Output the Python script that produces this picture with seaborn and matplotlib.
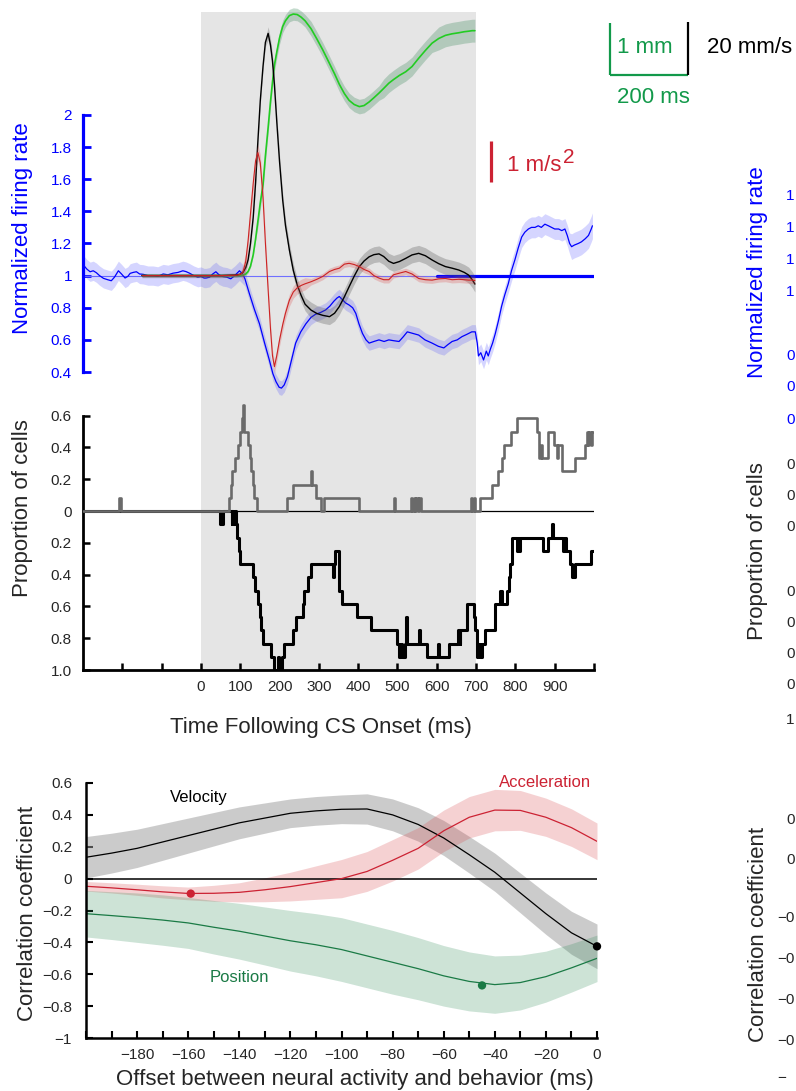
import numpy as np
import matplotlib
matplotlib.use("Agg")
import matplotlib.pyplot as plt
import seaborn as sns

# ------------------------------------------------------------------ data
# Top panel: normalized firing rate vs time following CS onset (ms)
fr_time = [-297, -290, -282, -274, -266, -258, -248, -238, -228, -220,
           -210, -202, -193, -186, -180, -172, -164, -156, -147, -135,
           -122, -110, -96, -84, -71, -58, -46, -38, -29, -18,
           -8, 0, 8, 13, 22, 30, 38, 46, 56, 66,
           76, 86, 98, 106, 112, 123, 136, 149, 162, 174,
           183, 191, 199, 205, 212, 220, 230, 241, 254, 267,
           280, 292, 304, 317, 328, 338, 346, 352, 360, 368,
           377, 386, 394, 402, 411, 420, 428, 440, 453, 466,
           478, 490, 504, 515, 525, 540, 554, 570, 588, 604,
           618, 628, 639, 652, 664, 677, 689, 698, 703, 706,
           712, 719, 726, 731, 736, 742, 749, 757, 765, 773,
           782, 790, 799, 807, 816, 824, 833, 841, 850, 858,
           866, 875, 884, 892, 900, 910, 918, 926, 932, 938,
           943, 950, 960, 968, 978, 986, 993, 996]
fr_rate = [1.06, 1.04, 1.024, 1.03, 1.018, 1.0, 0.983, 0.975, 0.968, 0.99,
           1.03, 1.01, 0.985, 0.995, 1.014, 1.02, 1.024, 1.01, 1.008, 1.0,
           1.0, 0.995, 1.01, 1.005, 1.015, 1.02, 1.03, 1.025, 1.015, 1.0,
           0.99, 0.994, 0.985, 0.985, 0.99, 1.01, 1.024, 1.005, 0.994, 0.99,
           0.98, 1.0, 1.03, 1.01, 0.98, 0.89, 0.79, 0.70, 0.58, 0.475,
           0.39, 0.34, 0.305, 0.30, 0.32, 0.37, 0.47, 0.58, 0.65, 0.70,
           0.74, 0.76, 0.77, 0.786, 0.81, 0.84, 0.86, 0.87, 0.85, 0.83,
           0.817, 0.80, 0.765, 0.70, 0.64, 0.60, 0.58, 0.59, 0.60, 0.59,
           0.60, 0.595, 0.59, 0.62, 0.65, 0.64, 0.63, 0.60, 0.58, 0.56,
           0.55, 0.57, 0.59, 0.60, 0.62, 0.635, 0.65, 0.65, 0.58, 0.50,
           0.52, 0.475, 0.53, 0.50, 0.54, 0.58, 0.64, 0.72, 0.81, 0.88,
           0.95, 1.03, 1.10, 1.17, 1.24, 1.27, 1.29, 1.30, 1.30, 1.31,
           1.30, 1.32, 1.31, 1.30, 1.29, 1.29, 1.28, 1.29, 1.25, 1.20,
           1.18, 1.19, 1.20, 1.21, 1.23, 1.25, 1.29, 1.31]
fr_sem = [0.06] * 44 + [0.045] * 54 + [0.055] * 13 + [0.065] * 19 + [0.08] * 8
rate_baseline = 1.0
rate_thick_span = [600, 1000]
cs_window = [0, 700]

# behaviour (eyelid) traces
beh_time = [-150, -100, -50, 0, 50, 90, 100, 107, 114, 120,
            126, 133, 139, 145, 151, 158, 164, 171, 177, 182,
            187, 193, 200, 208, 215, 225, 235, 245, 255, 265,
            280, 295, 310, 327, 340, 352, 365, 377, 390, 403,
            415, 428, 440, 453, 465, 478, 490, 505, 521, 537,
            554, 571, 588, 605, 622, 639, 656, 670, 681, 690, 697]
pos_mm = [0, 0, 0, 0, 0, 0, 0, 0.01, 0.03, 0.08,
          0.18, 0.4, 0.7, 1.05, 1.4, 1.75, 2.3, 2.85, 3.35, 3.72,
          4.05, 4.3, 4.57, 4.79, 4.9, 5.0, 5.03, 5.02, 4.97, 4.9,
          4.75, 4.55, 4.34, 4.08, 3.88, 3.68, 3.5, 3.37, 3.29, 3.25,
          3.27, 3.34, 3.42, 3.51, 3.6, 3.70, 3.77, 3.85, 3.92, 4.02,
          4.18, 4.33, 4.47, 4.56, 4.62, 4.65, 4.67, 4.69, 4.7, 4.71, 4.71]
pos_sem = [0.03] * 13 + [0.12] * 17 + [0.14] * 14 + [0.18] * 9 + [0.22] * 8
vel_mms = [0, 0, 0, 0, 0, 0.2, 0.5, 1.2, 3, 6,
           12, 22, 35, 51, 66, 79, 88, 91.4, 87, 81,
           72, 58, 43, 28.5, 19, 9.7, 2, -3.5, -7.5, -10.8,
           -13, -14.3, -15, -15.5, -14.2, -11.7, -8, -4.2, -0.2, 3.4,
           5.5, 7.1, 7.9, 8.2, 7.2, 5.4, 4.6, 5.3, 6.5, 7.8,
           8.4, 7.5, 5.9, 4.5, 3.4, 2.8, 2.1, 1.2, 0.2, -1.5, -3.2]
vel_sem = [0.8] * 7 + [1.5] * 10 + [2.5] * 13 + [3.0] * 31
acc_ms2 = [0, 0, 0, 0, 0, 0.01, 0.03, 0.08, 0.35, 0.85,
           1.5, 2.25, 2.8, 3.0, 2.75, 1.9, 0.8, -0.35, -1.3, -1.95,
           -2.22, -1.95, -1.57, -1.2, -0.92, -0.6, -0.4, -0.3, -0.24, -0.2,
           -0.15, -0.09, -0.02, 0.1, 0.15, 0.18, 0.28, 0.3, 0.27, 0.22,
           0.15, 0.1, 0.0, -0.06, -0.1, -0.1, 0.02, 0.06, 0.1, 0.04,
           -0.07, -0.1, -0.11, -0.08, -0.07, -0.1, -0.09, -0.1, -0.11, -0.11, -0.12]
acc_sem = [0.03] * 7 + [0.2] * 10 + [0.15] * 13 + [0.08] * 31

scale_mm, scale_vel, scale_ms, scale_acc = 1, 20, 200, 1

# Middle panel: proportion of cells (12 cells), step traces
n_cells = 12
inc_time = [-300, -208, -204, 72, 76, 80, 86, 94, 100, 105, 107, 110, 120, 124, 128, 132, 136, 142,
            218, 234, 279, 283, 292, 306, 314, 401, 492, 495, 534, 538, 541, 545, 548, 552, 555, 559,
            686, 690, 694, 698, 711, 740, 757, 765, 770, 790, 803, 854, 860, 864, 868, 882, 897,
            905, 909, 918, 951, 976, 981, 984, 988, 992, 995, 1000]
inc_count = [0, 1, 0, 1, 2, 3, 4, 5, 6, 7, 8, 6, 5, 4, 3, 2, 1, 0,
             1, 2, 3, 2, 1, 0, 1, 0, 1, 0, 1, 0, 1, 0, 1, 0, 1, 0,
             1, 0, 1, 0, 1, 2, 3, 4, 5, 6, 7, 6, 4, 5, 4, 6, 5,
             4, 5, 3, 4, 5, 6, 5, 6, 5, 6, 6]
dec_time = [-300, 48, 50, 52, 55, 78, 80, 82, 86, 88, 92, 97, 100, 132, 138, 145, 150, 154, 158,
            179, 186, 196, 198, 207, 211, 234, 242, 259, 263, 272, 280, 335, 338, 341, 350, 352,
            360, 398, 432, 500, 504, 508, 512, 518, 522, 525, 554, 557, 575, 603, 606, 630, 655,
            658, 660, 677, 694, 698, 702, 706, 710, 715, 723, 749, 762, 765, 779, 783, 787, 791,
            803, 806, 809, 812, 871, 884, 892, 895, 922, 926, 930, 938, 943, 951, 992, 1000]
dec_count = [0, 1, 0, 1, 0, 1, 0, 1, 0, 1, 2, 3, 4, 5, 6, 7, 8, 9, 10,
             11, 12, 11, 12, 11, 10, 9, 8, 7, 6, 5, 4, 5, 4, 3, 5, 6,
             7, 8, 9, 10, 11, 10, 11, 10, 8, 10, 9, 10, 11, 10, 11, 10, 9,
             10, 9, 7, 8, 9, 11, 10, 11, 10, 9, 7, 6, 7, 6, 5, 4, 2,
             3, 2, 3, 2, 3, 2, 1, 2, 3, 2, 3, 4, 5, 4, 3, 3]

# Bottom panel: correlation vs offset
lag_ms = [-200, -190, -180, -170, -160, -150, -140, -130, -120, -110, -100,
          -90, -80, -70, -60, -50, -40, -30, -20, -10, 0]
r_vel = [0.134, 0.16, 0.19, 0.23, 0.27, 0.31, 0.35, 0.38, 0.41, 0.425, 0.435,
         0.437, 0.40, 0.34, 0.255, 0.15, 0.04, -0.09, -0.22, -0.34, -0.425]
r_vel_ci = [0.13, 0.125, 0.12, 0.115, 0.11, 0.105, 0.1, 0.095, 0.09, 0.09, 0.09,
            0.095, 0.1, 0.105, 0.11, 0.115, 0.12, 0.125, 0.13, 0.135, 0.14]
r_acc = [-0.048, -0.058, -0.07, -0.083, -0.093, -0.092, -0.086, -0.07, -0.05, -0.025, 0.0,
         0.045, 0.115, 0.19, 0.30, 0.385, 0.43, 0.428, 0.385, 0.32, 0.234]
r_acc_ci = [0.03, 0.032, 0.035, 0.038, 0.04, 0.05, 0.06, 0.075, 0.09, 0.105, 0.12,
            0.125, 0.13, 0.13, 0.13, 0.13, 0.13, 0.125, 0.12, 0.118, 0.115]
r_pos = [-0.22, -0.232, -0.245, -0.26, -0.278, -0.305, -0.33, -0.36, -0.39, -0.415, -0.445,
         -0.485, -0.525, -0.565, -0.61, -0.645, -0.665, -0.652, -0.615, -0.56, -0.50]
r_pos_ci = [0.146, 0.15, 0.155, 0.158, 0.16, 0.168, 0.175, 0.182, 0.19, 0.195, 0.2,
            0.2, 0.2, 0.195, 0.19, 0.185, 0.18, 0.172, 0.16, 0.152, 0.146]
peak_kind = ["Velocity", "Acceleration", "Position"]
peak_lag = [0, -159, -45]
peak_r = [-0.425, -0.094, -0.67]

# ticks
time_ticks = list(range(-200, 1001, 100))
time_ticklabels = [str(t) if 0 <= t <= 900 else "" for t in time_ticks]
rate_ticks = [0.4, 0.6, 0.8, 1.0, 1.2, 1.4, 1.6, 1.8, 2.0]
rate_ticklabels = ["0.4", "0.6", "0.8", "1", "1.2", "1.4", "1.6", "1.8", "2"]
prop_ticks = [0.6, 0.4, 0.2, 0, -0.2, -0.4, -0.6, -0.8, -1.0]
prop_ticklabels = ["0.6", "0.4", "0.2", "0", "0.2", "0.4", "0.6", "0.8", "1.0"]
lag_ticks = list(range(-200, 1, 10))
lag_ticklabels = [str(t).replace("-", "\u2212") if (t % 20 == 0 and t != -200) else "" for t in lag_ticks]
corr_ticks = [0.6, 0.4, 0.2, 0, -0.2, -0.4, -0.6, -0.8, -1]
corr_ticklabels = ["0.6", "0.4", "0.2", "0", "\u22120.2", "\u22120.4", "\u22120.6", "\u22120.8", "\u22121"]

# visible part of the neighbouring panel's tick labels (cut by the figure edge)
right_rate_labels = ["1", "1", "1", "1", "0", "0", "0"]
right_rate_y = [196, 228, 260, 292, 356, 387, 420]
right_prop_labels = ["0", "0", "0", "0", "0", "0", "0", "1"]
right_prop_y = [465, 496, 527, 592, 623, 654, 685, 720]
right_corr_labels = ["0", "0", "\u22120", "\u22120", "\u22120", "\u22120", "\u2212"]
right_corr_y = [820, 860, 918, 959, 1000, 1041, 1078]

# ------------------------------------------------------------------ style
W, H, DPI = 796, 1091, 100
sns.set_theme(style="white")
plt.rcParams["font.family"] = ["Liberation Sans", "DejaVu Sans"]
plt.rcParams["axes.unicode_minus"] = True

BLUE = "#0000ff"
TXT = "#262626"
GREEN_LINE = "#22cc22"
GREEN_SB = "#12994a"
RED = "#cc2233"
DKGREEN = "#1a7a45"

fig = plt.figure(figsize=(W / DPI, H / DPI), dpi=DPI)


def rect(l, t, r, b):
    return [l / W, 1 - b / H, (r - l) / W, (b - t) / H]


def fx(x):
    return x / W


def fy(y):
    return 1 - y / H


# ---------------- shaded CS window behind top + middle panels
ax_bg = fig.add_axes(rect(83, 12, 594, 670))
ax_bg.set_xlim(-300, 1000)
ax_bg.axvspan(cs_window[0], cs_window[1], color="#e5e5e5", lw=0)
ax_bg.axis("off")

# ---------------- top panel
ax_top = fig.add_axes(rect(83, 0, 594, 395), facecolor="none")
ax_top.set_xlim(-300, 1000)
ax_top.set_ylim(0.257, 2.715)

fr_t = np.array(fr_time)
fr_r = np.array(fr_rate)
fr_s = np.array(fr_sem)
ax_top.axhline(rate_baseline, color="#7070ff", lw=0.8, zorder=1)
ax_top.fill_between(fr_t, fr_r - fr_s, fr_r + fr_s, color="#4444ff", alpha=0.22, lw=0, zorder=2)
sns.lineplot(x=fr_time, y=fr_rate, ax=ax_top, color=BLUE, linewidth=0.9,
             estimator=None, sort=False, legend=False, zorder=3)
ax_top.plot(rate_thick_span, [rate_baseline, rate_baseline], color=BLUE, lw=2.3, zorder=3)

for s in ["top", "right", "bottom"]:
    ax_top.spines[s].set_visible(False)
ax_top.spines["left"].set_color(BLUE)
ax_top.spines["left"].set_linewidth(2.3)
ax_top.spines["left"].set_bounds(0.4, 2.0)
ax_top.set_xticks([])
ax_top.set_yticks(rate_ticks)
ax_top.set_yticklabels(rate_ticklabels)
ax_top.tick_params(axis="y", direction="in", length=6, width=2, color=BLUE,
                   labelcolor=BLUE, labelsize=11, pad=8, left=True)


def overlay(lo, hi):
    a = ax_top.twinx()
    a.set_ylim(lo, hi)
    a.axis("off")
    return a


ax_pos = overlay(-2.296, 5.30)
ax_vel = overlay(-45.06, 104.0)
ax_acc = overlay(-2.912, 6.722)

bt = np.array(beh_time)
for a, vals, sem, line_c, band_c, band_a, lw in [
        (ax_pos, pos_mm, pos_sem, GREEN_LINE, "#3d8a5c", 0.3, 1.2),
        (ax_vel, vel_mms, vel_sem, "black", "#555555", 0.3, 1.0),
        (ax_acc, acc_ms2, acc_sem, "#cc2222", "#dd5555", 0.28, 0.8)]:
    v = np.array(vals)
    s = np.array(sem)
    a.fill_between(bt, v - s, v + s, color=band_c, alpha=band_a, lw=0)
    sns.lineplot(x=beh_time, y=vals, ax=a, color=line_c, linewidth=lw,
                 estimator=None, sort=False, legend=False)

# scale bars
sb_t0 = 1040
ax_pos.plot([sb_t0, sb_t0], [3.858, 3.858 + scale_mm], color=GREEN_SB, lw=1.6, clip_on=False,
            solid_capstyle="butt")
ax_pos.plot([sb_t0, sb_t0 + scale_ms], [3.858, 3.858], color=GREEN_SB, lw=1.6, clip_on=False,
            solid_capstyle="butt")
ax_vel.plot([sb_t0 + scale_ms, sb_t0 + scale_ms], [75.7, 75.7 + scale_vel], color="black", lw=1.6,
            clip_on=False, solid_capstyle="butt")
ax_acc.plot([739, 739], [2.283, 2.283 + scale_acc], color=RED, lw=2.3, clip_on=False,
            solid_capstyle="butt")
fig.text(fx(617), fy(53), "1 mm", color=GREEN_SB, fontsize=16, ha="left", va="baseline")
fig.text(fx(707), fy(53), "20 mm/s", color="black", fontsize=16, ha="left", va="baseline")
fig.text(fx(617), fy(103), "200 ms", color=GREEN_SB, fontsize=16, ha="left", va="baseline")
fig.text(fx(507), fy(171), "1 m/s", color=RED, fontsize=16, ha="left", va="baseline")
fig.text(fx(563), fy(163), "2", color=RED, fontsize=15, ha="left", va="baseline")

fig.text(fx(23), fy(228), "Normalized firing rate", rotation=90, color=BLUE, fontsize=16,
         ha="center", va="center")

# ---------------- middle panel
ax_mid = fig.add_axes(rect(83, 398, 594, 670), facecolor="none")
ax_mid.set_xlim(-300, 1000)
ax_mid.set_ylim(-1.0, 0.711)
ax_mid.axhline(0, color="black", lw=0.9, zorder=1)
sns.lineplot(x=dec_time, y=-np.array(dec_count) / n_cells, ax=ax_mid, color="black",
             linewidth=2.2, estimator=None, sort=False, legend=False, drawstyle="steps-post", zorder=2)
sns.lineplot(x=inc_time, y=np.array(inc_count) / n_cells, ax=ax_mid, color="#6a6a6a",
             linewidth=1.9, estimator=None, sort=False, legend=False, drawstyle="steps-post", zorder=3)
for s in ["top", "right"]:
    ax_mid.spines[s].set_visible(False)
for s in ["left", "bottom"]:
    ax_mid.spines[s].set_color("black")
    ax_mid.spines[s].set_linewidth(2.0)
ax_mid.spines["left"].set_bounds(-1.0, 0.6)
ax_mid.set_yticks(prop_ticks)
ax_mid.set_yticklabels(prop_ticklabels)
ax_mid.set_xticks(time_ticks)
ax_mid.set_xticklabels(time_ticklabels)
ax_mid.tick_params(axis="both", direction="in", length=5, width=1.8, color="black",
                   labelcolor=TXT, labelsize=11, left=True, bottom=True)
ax_mid.tick_params(axis="y", pad=8)
ax_mid.tick_params(axis="x", pad=7)
fig.text(fx(23), fy(508), "Proportion of cells", rotation=90, color=TXT, fontsize=16,
         ha="center", va="center")
fig.text(fx(321), fy(733), "Time Following CS Onset (ms)", color=TXT, fontsize=16,
         ha="center", va="baseline")

# ---------------- bottom panel
ax_cor = fig.add_axes(rect(86, 783, 597, 1038), facecolor="none")
ax_cor.set_xlim(-200, 0)
ax_cor.set_ylim(-1, 0.6)
lag = np.array(lag_ms)
for vals, ci, band_c, band_a in [(r_vel, r_vel_ci, "#999999", 0.5),
                                 (r_acc, r_acc_ci, "#d9494f", 0.25),
                                 (r_pos, r_pos_ci, "#2e8b57", 0.24)]:
    v = np.array(vals)
    c = np.array(ci)
    ax_cor.fill_between(lag, v - c, v + c, color=band_c, alpha=band_a, lw=0)
ax_cor.axhline(0, color="black", lw=1.1)
for vals, col in [(r_vel, "black"), (r_acc, RED), (r_pos, DKGREEN)]:
    sns.lineplot(x=lag_ms, y=vals, ax=ax_cor, color=col, linewidth=0.9,
                 estimator=None, sort=False, legend=False)
sns.scatterplot(x=peak_lag, y=peak_r, hue=peak_kind, ax=ax_cor,
                palette={"Velocity": "black", "Acceleration": RED, "Position": DKGREEN},
                s=36, edgecolor="none", legend=False, clip_on=False, zorder=5)
for s in ["top", "right"]:
    ax_cor.spines[s].set_visible(False)
for s in ["left", "bottom"]:
    ax_cor.spines[s].set_color("black")
    ax_cor.spines[s].set_linewidth(1.8)
ax_cor.set_xticks(lag_ticks)
ax_cor.set_xticklabels(lag_ticklabels)
ax_cor.set_yticks(corr_ticks)
ax_cor.set_yticklabels(corr_ticklabels)
ax_cor.tick_params(axis="both", direction="in", length=5, width=1.5, color="black",
                   labelcolor=TXT, labelsize=11, left=True, bottom=True)
ax_cor.tick_params(axis="y", pad=10)
ax_cor.tick_params(axis="x", pad=7)
fig.text(fx(170), fy(802), "Velocity", color="black", fontsize=12, ha="left", va="baseline")
fig.text(fx(499), fy(787), "Acceleration", color=RED, fontsize=12, ha="left", va="baseline")
fig.text(fx(210), fy(982), "Position", color=DKGREEN, fontsize=12, ha="left", va="baseline")
fig.text(fx(28), fy(913), "Correlation coefficient", rotation=90, color=TXT, fontsize=16,
         ha="center", va="center")
fig.text(fx(355), fy(1085), "Offset between neural activity and behavior (ms)", color=TXT,
         fontsize=16, ha="center", va="baseline")

# ---------------- neighbouring panel, only partly inside the figure
fig.text(fx(758), fy(272), "Normalized firing rate", rotation=90, color=BLUE, fontsize=16,
         ha="center", va="center")
fig.text(fx(758), fy(551), "Proportion of cells", rotation=90, color=TXT, fontsize=16,
         ha="center", va="center")
fig.text(fx(758), fy(934), "Correlation coefficient", rotation=90, color=TXT, fontsize=16,
         ha="center", va="center")
for lab, y in zip(right_rate_labels, right_rate_y):
    fig.text(fx(786), fy(y), lab, color=BLUE, fontsize=11, ha="left", va="center")
for lab, y in zip(right_prop_labels, right_prop_y):
    fig.text(fx(786), fy(y), lab, color=TXT, fontsize=11, ha="left", va="center")
for lab, y in zip(right_corr_labels, right_corr_y):
    fig.text(fx(777 if lab.startswith("\u2212") else 786), fy(y), lab, color=TXT, fontsize=11,
             ha="left", va="center")

fig.savefig("out.png", dpi=DPI)
